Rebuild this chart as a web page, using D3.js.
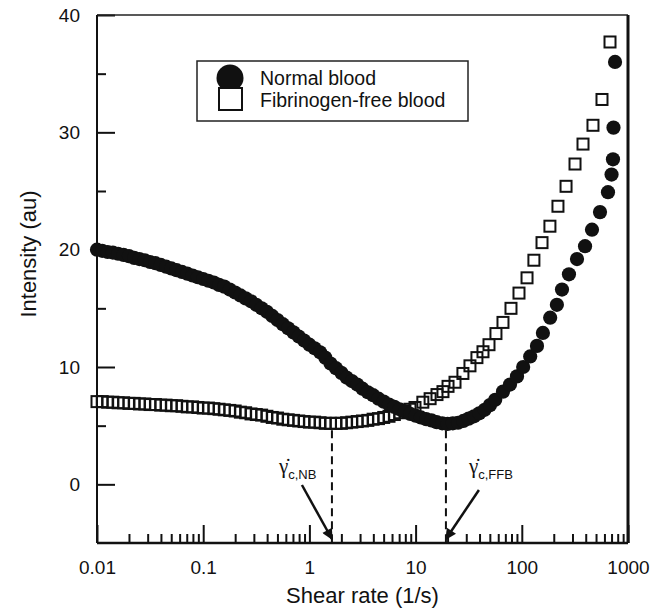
<!DOCTYPE html>
<html>
<head>
<meta charset="utf-8">
<title>Intensity vs shear rate</title>
<script src="https://cdn.jsdelivr.net/npm/d3@7/dist/d3.min.js"></script>
<style>
  body { margin: 0; background: #fff; }
  svg { display: block; font-family: "Liberation Sans", Arial, sans-serif; }
</style>
</head>
<body>
<script>
// normal blood (filled circles)
const normalShear = [
  0.0100, 0.0112, 0.0126, 0.0141, 0.0158, 0.0178, 0.0200, 0.0224, 0.0251, 0.0282,
  0.0316, 0.0355, 0.0398, 0.0447, 0.0501, 0.0562, 0.0631, 0.0708, 0.0794, 0.0891,
  0.100, 0.112, 0.126, 0.141, 0.158, 0.178, 0.200, 0.224, 0.251, 0.282,
  0.316, 0.355, 0.398, 0.447, 0.501, 0.562, 0.631, 0.708, 0.794, 0.891,
  1.00, 1.12, 1.26, 1.41, 1.58, 1.78, 2.00, 2.24, 2.51, 2.82,
  3.16, 3.55, 3.98, 4.47, 5.01, 5.62, 6.31, 7.08, 7.94, 8.91,
  10.0, 11.2, 12.6, 14.1, 15.8, 17.8, 20.0, 22.4, 25.1, 28.2,
  31.6, 35.5, 39.8, 44.7, 50.1, 56.2,
  66.5, 77.4, 90.1, 103, 120, 139, 158, 185, 214, 239,
  278, 331, 394, 458, 545, 648, 700, 722, 730, 755
];
const normalIntensity = [
  20.0, 19.9, 19.8, 19.75, 19.65, 19.55, 19.45, 19.3, 19.2, 19.1,
  18.95, 18.85, 18.7, 18.55, 18.4, 18.25, 18.1, 17.95, 17.8, 17.65,
  17.5, 17.35, 17.2, 17.0, 16.85, 16.6, 16.35, 16.1, 15.85, 15.6,
  15.3, 15.0, 14.7, 14.35, 14.0, 13.65, 13.3, 12.95, 12.6, 12.25,
  11.9, 11.6, 11.25, 10.8, 10.3, 9.9, 9.5, 9.1, 8.8, 8.5,
  8.15, 7.85, 7.6, 7.3, 7.05, 6.8, 6.6, 6.4, 6.2, 6.0,
  5.85, 5.7, 5.55, 5.45, 5.3, 5.2, 5.15, 5.2, 5.25, 5.4,
  5.6, 5.8, 6.05, 6.35, 6.75, 7.2,
  7.9, 8.5, 9.2, 10.0, 10.9, 11.8, 12.9, 14.2, 15.3, 16.6,
  17.9, 19.2, 20.3, 21.7, 23.2, 24.9, 26.4, 27.7, 30.4, 36.0
];

// fibrinogen-free blood (open squares)
const ffbShear = [
  0.0100, 0.0112, 0.0126, 0.0141, 0.0158, 0.0178, 0.0200, 0.0224, 0.0251, 0.0282,
  0.0316, 0.0355, 0.0398, 0.0447, 0.0501, 0.0562, 0.0631, 0.0708, 0.0794, 0.0891,
  0.100, 0.112, 0.126, 0.141, 0.158, 0.178, 0.200, 0.224, 0.251, 0.282,
  0.316, 0.355, 0.398, 0.447, 0.501, 0.562, 0.631, 0.708, 0.794, 0.891,
  1.00, 1.12, 1.26, 1.41, 1.58, 1.78, 2.00, 2.24, 2.51, 2.82,
  3.16, 3.55, 3.98, 4.47, 5.01, 5.62, 6.31, 7.08, 7.94,
  8.85, 9.87, 11.7, 13.7, 15.9, 18.1, 20.2, 23.5, 27.9, 32.5,
  37.8, 43.1, 49.1, 57.1, 66.5, 79.1, 94.1, 112, 130, 155,
  184, 219, 261, 317, 377, 468, 569, 677
];
const ffbIntensity = [
  7.05, 7.05, 7.0, 7.0, 6.95, 6.95, 6.9, 6.9, 6.85, 6.85,
  6.8, 6.8, 6.75, 6.75, 6.7, 6.7, 6.65, 6.6, 6.6, 6.55,
  6.5, 6.5, 6.45, 6.4, 6.35, 6.3, 6.25, 6.15, 6.1, 6.0,
  5.95, 5.9, 5.8, 5.7, 5.65, 5.55, 5.5, 5.45, 5.4, 5.35,
  5.3, 5.3, 5.25, 5.2, 5.2, 5.2, 5.2, 5.25, 5.3, 5.35,
  5.4, 5.45, 5.55, 5.6, 5.7, 5.8, 5.95, 6.1, 6.25,
  6.4, 6.55, 7.0, 7.3, 7.65, 7.9, 8.35, 8.7, 9.45, 10.1,
  10.8, 11.3, 11.9, 12.85, 13.8, 15.0, 16.3, 17.6, 19.1, 20.6,
  22.0, 23.7, 25.4, 27.3, 29.0, 30.6, 32.8, 37.7
];

const seriesNames = ["Normal blood", "Fibrinogen-free blood"];
const xTicks = [0.01, 0.1, 1, 10, 100, 1000];
const xTickLabels = ["0.01", "0.1", "1", "10", "100", "1000"];
const yTicks = [0, 10, 20, 30, 40];
const yTickLabels = ["0", "10", "20", "30", "40"];
const yMinorTicks = [5, 15, 25, 35];
// critical shear rates: normal blood, fibrinogen-free blood
const criticalShear = [1.63, 19.3];
const criticalSubs = ["c,NB", "c,FFB"];

const width = 662, height = 616;
const svg = d3.select("body").append("svg").attr("width", width).attr("height", height);

const x = d3.scaleLog().domain([0.01, 1000]).range([97, 628]);
const y = d3.scaleLinear().domain([-5, 40]).range([543, 15]);

// minor x ticks 2..9 per decade
const xMinor = [];
[0.01, 0.1, 1, 10, 100].forEach(d => { for (let k = 2; k <= 9; k++) xMinor.push(d * k); });

const xAxis = d3.axisBottom(x).tickValues(xTicks).tickSize(-18).tickPadding(18)
  .tickFormat((d, i) => xTickLabels[i]);
const xAxisMinor = d3.axisBottom(x).tickValues(xMinor).tickSize(-9).tickFormat("");
const yAxis = d3.axisLeft(y).tickValues(yTicks).tickSize(-18).tickPadding(17)
  .tickFormat((d, i) => yTickLabels[i]);
const yAxisMinor = d3.axisLeft(y).tickValues(yMinorTicks).tickSize(-9).tickFormat("");

function styleAxis(g) {
  g.select(".domain").remove();
  g.selectAll(".tick line").attr("stroke", "#111").attr("stroke-width", 2);
  g.selectAll(".tick text").attr("fill", "#111").style("font-size", "19px")
    .style("font-family", "'Liberation Sans', Arial, sans-serif");
}

svg.append("g").attr("transform", "translate(0,543)").call(xAxisMinor).call(styleAxis);
svg.append("g").attr("transform", "translate(0,543)").call(xAxis).call(styleAxis);
svg.append("g").attr("transform", "translate(97,0)").call(yAxisMinor).call(styleAxis);
svg.append("g").attr("transform", "translate(97,0)").call(yAxis).call(styleAxis);

// frame
const x0 = x.range()[0], x1 = x.range()[1], y0 = y.range()[0], y1 = y.range()[1];
svg.append("line").attr("x1", x0).attr("x2", x1).attr("y1", y1).attr("y2", y1)
  .attr("stroke", "#222").attr("stroke-width", 1.5);
svg.append("line").attr("x1", x1).attr("x2", x1).attr("y1", y1).attr("y2", y0)
  .attr("stroke", "#111").attr("stroke-width", 3);
svg.append("line").attr("x1", x0).attr("x2", x0).attr("y1", y1).attr("y2", y0)
  .attr("stroke", "#111").attr("stroke-width", 2);
svg.append("line").attr("x1", x0).attr("x2", x1).attr("y1", y0).attr("y2", y0)
  .attr("stroke", "#111").attr("stroke-width", 2.5);

// critical shear dashed lines
svg.selectAll(".crit").data(criticalShear).enter().append("line")
  .attr("class", "crit")
  .attr("x1", d => x(d)).attr("x2", d => x(d))
  .attr("y1", y(4.6)).attr("y2", y0)
  .attr("stroke", "#111").attr("stroke-width", 2).attr("stroke-dasharray", "8,5");

// data
const ffb = ffbShear.map((s, i) => ({ s: s, v: ffbIntensity[i] }));
const normal = normalShear.map((s, i) => ({ s: s, v: normalIntensity[i] }));
const sq = 11;

svg.append("g").selectAll("rect").data(ffb).enter().append("rect")
  .attr("x", d => x(d.s) - sq / 2).attr("y", d => y(d.v) - sq / 2)
  .attr("width", sq).attr("height", sq)
  .attr("fill", "none").attr("stroke", "#111").attr("stroke-width", 2);

svg.append("g").selectAll("circle").data(normal).enter().append("circle")
  .attr("cx", d => x(d.s)).attr("cy", d => y(d.v)).attr("r", 7.1)
  .attr("fill", "#111");

// annotations: arrows and gamma labels
const defs = svg.append("defs");
defs.append("marker").attr("id", "arrow")
  .attr("viewBox", "0 0 10 10").attr("refX", 9).attr("refY", 5)
  .attr("markerUnits", "userSpaceOnUse").attr("markerWidth", 13).attr("markerHeight", 11)
  .attr("orient", "auto")
  .append("path").attr("d", "M0,0 L10,5 L0,10 z").attr("fill", "#111");

const annot = [
  { dx: -30, dy: -54, lx: -53, sub: criticalSubs[0] },
  { dx: 33, dy: -49, lx: 23, sub: criticalSubs[1] }
];
criticalShear.forEach((c, i) => {
  const tx = x(c), ty = y0 - 4;
  const a = annot[i];
  svg.append("line")
    .attr("x1", tx + a.dx).attr("y1", ty + a.dy).attr("x2", tx).attr("y2", ty)
    .attr("stroke", "#111").attr("stroke-width", 2.5).attr("marker-end", "url(#arrow)");
  const t = svg.append("text").attr("x", tx + a.lx).attr("y", 473).attr("fill", "#111");
  t.append("tspan")
    .style("font-family", "'Liberation Serif', 'Times New Roman', serif").style("font-size", "21px")
    .text("\u03B3\u0307");
  t.append("tspan").attr("dy", 6).style("font-size", "13px").text(a.sub);
});

// legend
const lg = svg.append("g");
lg.append("rect").attr("x", 197).attr("y", 61).attr("width", 271).attr("height", 60)
  .attr("fill", "#fff").attr("stroke", "#222").attr("stroke-width", 1.5);
lg.append("circle").attr("cx", 230).attr("cy", 78).attr("r", 13.5).attr("fill", "#111");
lg.append("rect").attr("x", 219).attr("y", 88).attr("width", 23).attr("height", 22)
  .attr("fill", "#fff").attr("stroke", "#111").attr("stroke-width", 2);
lg.selectAll("text").data(seriesNames).enter().append("text")
  .attr("x", 260).attr("y", (d, i) => 85 + i * 22)
  .style("font-size", "19.5px").attr("fill", "#111").text(d => d);

// axis titles
svg.append("text").attr("x", (x0 + x1) / 2).attr("y", 603).attr("text-anchor", "middle")
  .style("font-size", "22px").attr("fill", "#111").text("Shear rate (1/s)");
svg.append("text").attr("transform", "translate(36,254) rotate(-90)").attr("text-anchor", "middle")
  .style("font-size", "22px").attr("fill", "#111").text("Intensity (au)");
</script>
</body>
</html>
